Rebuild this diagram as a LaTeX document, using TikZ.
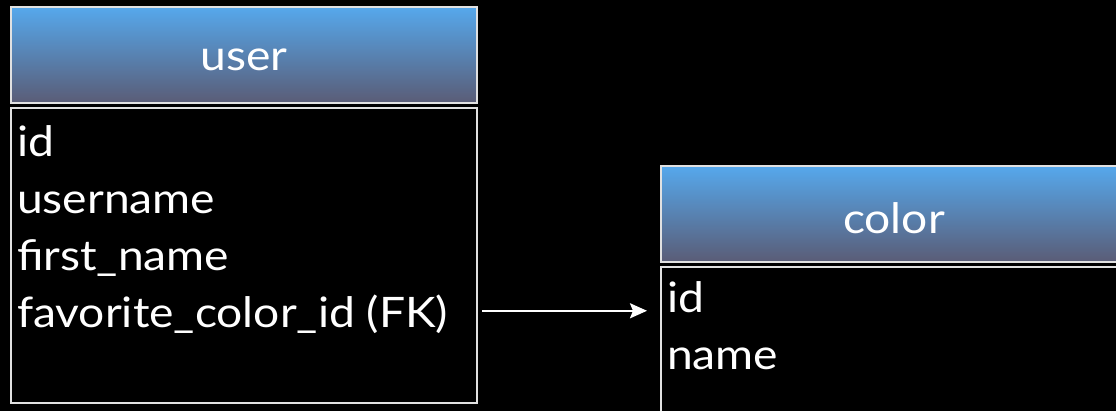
\documentclass[tikz,border=0pt]{standalone}
\usepackage{fontspec}
\setmainfont{Lato}[FakeStretch=1.1]
\usetikzlibrary{arrows.meta, positioning, calc}
\definecolor{headTop}{RGB}{86,168,236}
\definecolor{headBot}{RGB}{90,92,118}
\definecolor{rule}{RGB}{225,225,225}
\tikzset{
  tablehead/.style={rectangle, draw=rule, line width=2pt, top color=headTop, bottom color=headBot,
              minimum width=466pt, minimum height=96pt, inner sep=0pt},
  tablebody/.style={rectangle, draw=rule, line width=2pt, fill=black,
              minimum width=466pt, inner sep=0pt},
  headlabel/.style={text=white, inner sep=0pt, font=\fontsize{42}{50}\selectfont},
  field/.style={anchor=base west, text=white, inner sep=0pt, font=\fontsize{42}{50}\selectfont},
  fkarrow/.style={-{Stealth[length=17pt, width=15pt, inset=3pt]}, draw=white, line width=2.2pt},
}
\begin{document}
\begin{tikzpicture}[x=1pt, y=-1pt]
  % black page, tables run off the right edge
  \fill[black] (0,0) rectangle (1116,411);
  \useasboundingbox (0,0) rectangle (1116,411);
  \clip (0,0) rectangle (1116,411);

  % user table
  \node[tablehead, anchor=north west] (userhead) at (10,6) {};
  \node[headlabel] at ($(userhead.center)+(0,5)$) {user};
  \node[tablebody, minimum height=295pt, below=3pt of userhead] (userbody) {};
  \node[field] (uid)   at (17,157) {id};
  \node[field] (uname) at (17,214) {username};
  \node[field] (ufirst) at (17,271) {first\_name};
  \node[field] (ufk)   at (17,328) {favorite\_color\_id (FK)};

  % color table
  \node[tablehead, anchor=north west] (colorhead) at (660,165) {};
  \node[headlabel] at ($(colorhead.center)+(0,4)$) {color};
  \node[tablebody, minimum height=145pt, below=3pt of colorhead] (colorbody) {};
  \node[field] (cid)   at (667,313) {id};
  \node[field] (cname) at (667,370) {name};

  % foreign key -> id
  \draw[fkarrow] ($(ufk.center -| userbody.east)+(4,-4)$) -- ($(ufk.center -| colorbody.west)+(-13,-4)$);
\end{tikzpicture}
\end{document}
